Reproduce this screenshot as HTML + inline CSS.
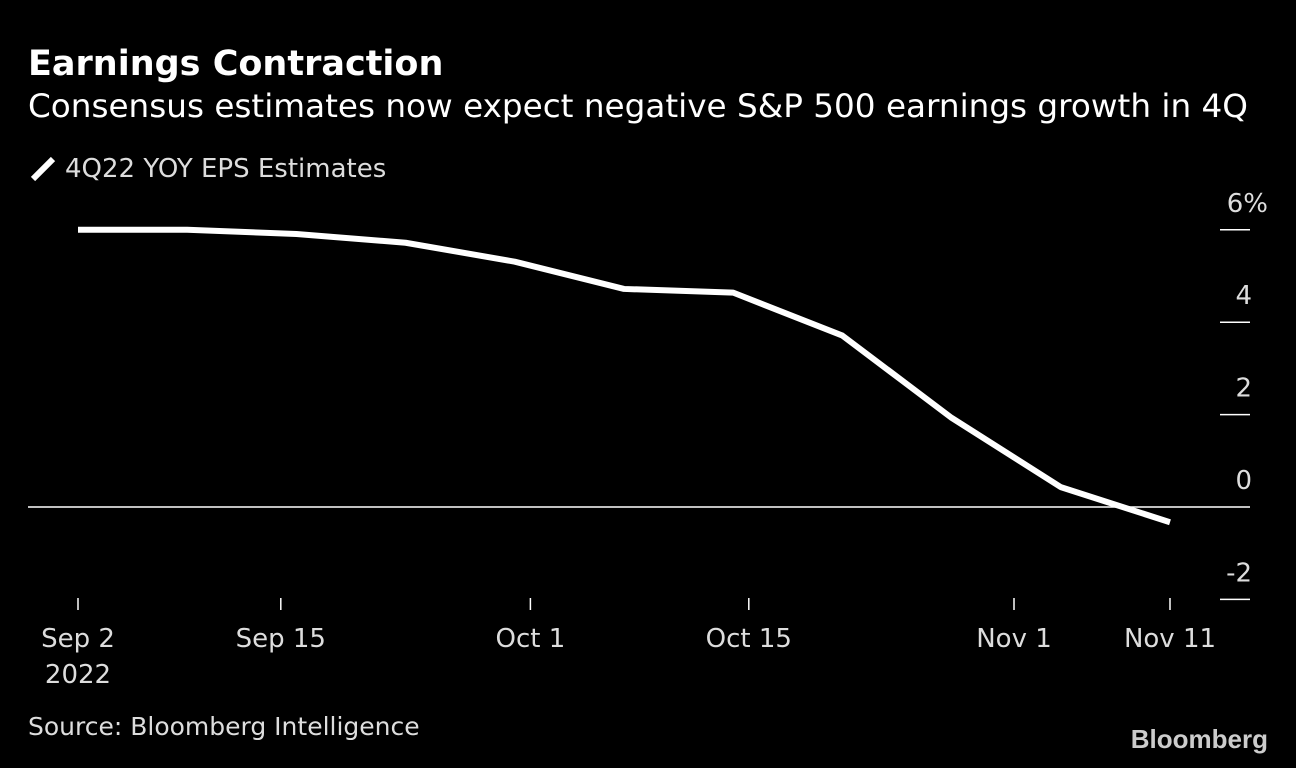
<!DOCTYPE html>
<html><head><meta charset="utf-8"><style>
body{margin:0;background:#000;width:1296px;height:764px;overflow:hidden;font-family:"DejaVu Sans","Liberation Sans",sans-serif;color:#fff}
</style></head><body>
<svg width="1296" height="764">
<text x="28" y="75" font-size="35" font-weight="bold" fill="#fff">Earnings Contraction</text>
<text x="28" y="117" font-size="32" fill="#fff" textLength="1220" lengthAdjust="spacingAndGlyphs">Consensus estimates now expect negative S&amp;P 500 earnings growth in 4Q</text>
<line x1="33" y1="179" x2="53" y2="159" stroke="#fff" stroke-width="6"/>
<text x="65" y="177" font-size="26" fill="#ddd">4Q22 YOY EPS Estimates</text>
<g id="axes"></g>
<path id="line" fill="none" stroke="#fff" stroke-width="6" stroke-linejoin="round"/>
<text x="28" y="735" font-size="25" fill="#ddd">Source: Bloomberg Intelligence</text>
<text x="1268" y="748" font-size="26" font-weight="bold" fill="#ccc" text-anchor="end" font-family="Liberation Sans, sans-serif">Bloomberg</text>
</svg>
<script>
const days=[0,7,14,21,28,35,42,49,56,63,70];
const values=[6.0,6.0,5.91,5.72,5.31,4.72,4.64,3.71,1.93,0.43,-0.33];
const yTicks=[6,4,2,0,-2];
const yTickLabels=["6%","4","2","0","-2"];
const xTickDays=[0,13,29,43,60,70];
const xTickLabels=["Sep 2","Sep 15","Oct 1","Oct 15","Nov 1","Nov 11"];
const X=d=>78+d*15.6, Y=v=>507-v*46.2;
const ns="http://www.w3.org/2000/svg", g=document.getElementById('axes');
function mk(t,a){const e=document.createElementNS(ns,t);for(const k in a)e.setAttribute(k,a[k]);g.appendChild(e);return e;}
yTicks.forEach((v,i)=>{
 let l;
 if(v===0){l=mk('line',{x1:28,x2:1250,y1:Y(v),y2:Y(v),stroke:'#fff','stroke-width':1.5});}
 else {l=mk('line',{x1:1220,x2:1250,y1:Y(v),y2:Y(v),stroke:'#fff','stroke-width':1.5});}
 
 const t=mk('text',{x:1252,y:Y(v)-18,'font-size':26,fill:'#ddd','text-anchor':'end'});t.textContent=yTickLabels[i];
 if(v===6)t.setAttribute('x',1268);
 
 
});
xTickDays.forEach((d,i)=>{
 const l=mk('line',{x1:X(d),x2:X(d),y1:598,y2:610,stroke:'#fff','stroke-width':1.5});
 
 
 const t=mk('text',{x:X(d),y:647,'font-size':26,fill:'#ddd','text-anchor':'middle'});t.textContent=xTickLabels[i];
 
 
});
const yr=mk('text',{x:X(0),y:683,'font-size':26,fill:'#ddd','text-anchor':'middle'});yr.textContent="2022";


document.getElementById('line').setAttribute('d',days.map((d,i)=>(i?'L':'M')+X(d)+','+Y(values[i])).join(''));
</script>
</body></html>
